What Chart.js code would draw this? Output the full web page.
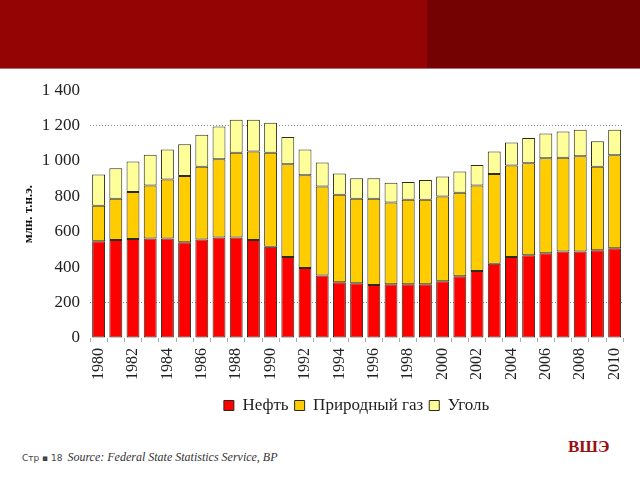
<!DOCTYPE html>
<html>
<head>
<meta charset="utf-8">
<script src="https://cdn.jsdelivr.net/npm/chart.js@4/dist/chart.umd.min.js"></script>
<style>
    body { margin: 0; width: 640px; height: 480px; background: #fff; position: relative; overflow: hidden; }
    .band { position: absolute; left: 0; top: 0; width: 640px; height: 68px; background: #950404; border-bottom: 1px solid #b47070; }
    .band-right { position: absolute; left: 427px; top: 0; width: 213px; height: 68px; background: #740202; }
    #wrap { position: absolute; left: 0; top: 70px; width: 640px; height: 355px; }
    .footer { position: absolute; left: 22px; top: 450px; font-family: "DejaVu Sans", sans-serif; font-size: 9px; color: #444; white-space: nowrap; }
    .footer i { font-family: "Liberation Serif", serif; font-size: 12px; color: #333; margin-left: 2px; }
    .logo { position: absolute; left: 568px; top: 437px; font-family: "Liberation Serif", serif; font-weight: bold; font-size: 17px; color: #9a1010; }
</style>
</head>
<body>
<div class="band"></div>
<div class="band-right"></div>
<div id="wrap"><canvas id="energyChart"></canvas></div>
<div class="footer">Стр ▪ 18 <i>Source: Federal State Statistics Service, BP</i></div>
<div class="logo">ВШЭ</div>

<script>
// Years on the x axis
const years = [];
for (let y = 1980; y <= 2010; y++) years.push(String(y));

// Production, mln t.o.e.
const oil = [547, 553, 559, 562, 562, 541, 557, 568, 568, 553, 515, 458, 395, 353, 315,
             309, 299, 303, 303, 303, 320, 349, 378, 419, 458, 467, 479, 488, 488, 496, 507];
const gas = [200, 234, 266, 299, 334, 374, 411, 442, 478, 501, 531, 523, 524, 503, 495,
             478, 488, 463, 478, 478, 479, 472, 483, 507, 516, 520, 537, 531, 539, 472, 526];
const coal = [177, 172, 172, 174, 169, 179, 181, 185, 187, 179, 170, 155, 146, 135, 120,
              115, 115, 111, 101, 111, 114, 120, 117, 128, 131, 143, 139, 147, 149, 143, 143];

const seriesNames = ['Нефть', 'Природный газ', 'Уголь'];
const yTicks = [0, 200, 400, 600, 800, 1000, 1200, 1400];

const serif = '"Liberation Serif", "Times New Roman", serif';

function fmt(v) {
    return String(v).replace(/\B(?=(\d{3})+(?!\d))/g, ' ');
}

const ctx = document.getElementById('energyChart').getContext('2d');
new Chart(ctx, {
    type: 'bar',
    data: {
        labels: years,
        datasets: [
            { label: seriesNames[0], data: oil, backgroundColor: '#ff0000' },
            { label: seriesNames[1], data: gas, backgroundColor: '#ffcc00' },
            { label: seriesNames[2], data: coal, backgroundColor: '#ffff99' }
        ].map(d => Object.assign(d, {
            borderColor: '#2b2b1a',
            borderWidth: 1,
            borderSkipped: false,
            barPercentage: 0.75,
            categoryPercentage: 1
        }))
    },
    options: {
        responsive: true,
        maintainAspectRatio: false,
        animation: false,
        layout: { padding: { top: 20, right: 10, left: 0, bottom: 1 } },
        plugins: {
            tooltip: { enabled: false },
            legend: {
                position: 'bottom',
                fullSize: false,
                labels: {
                    font: { family: serif, size: 17 },
                    color: '#222',
                    boxWidth: 10,
                    boxHeight: 10,
                    padding: 6
                }
            }
        },
        scales: {
            x: {
                stacked: true,
                border: { display: false },
                grid: {
                    offset: true,
                    drawOnChartArea: false,
                    drawTicks: true,
                    tickLength: 4,
                    color: '#aaa'
                },
                ticks: {
                    autoSkip: false,
                    maxRotation: 90,
                    minRotation: 90,
                    padding: 6,
                    color: '#222',
                    font: { family: serif, size: 16 },
                    callback: function(value, index) {
                        return index % 2 === 0 ? years[index] : '';
                    }
                },
                afterFit: function(scale) { scale.height = 53; }
            },
            y: {
                stacked: true,
                min: 0,
                max: 1400,
                border: { display: false, dash: [1, 2] },
                afterBuildTicks: function(scale) {
                    scale.ticks = yTicks.map(v => ({ value: v }));
                },
                grid: {
                    drawTicks: false,
                    lineWidth: 1,
                    color: function(c) {
                        const v = c.tick && c.tick.value;
                        if (v === 200 || v === 1200) return '#8a8a8a';
                        return 'rgba(0,0,0,0)';
                    }
                },
                ticks: {
                    padding: 10,
                    color: '#222',
                    font: { family: serif, size: 17 },
                    callback: function(value) { return fmt(value); }
                },
                title: {
                    display: true,
                    text: 'млн. т.н.э.',
                    color: '#111',
                    font: { family: serif, size: 13, weight: 'bold' },
                    padding: { top: 21, bottom: 0 }
                },
                afterFit: function(scale) { scale.width = 90; }
            }
        }
    }
});
</script>
</body>
</html>
